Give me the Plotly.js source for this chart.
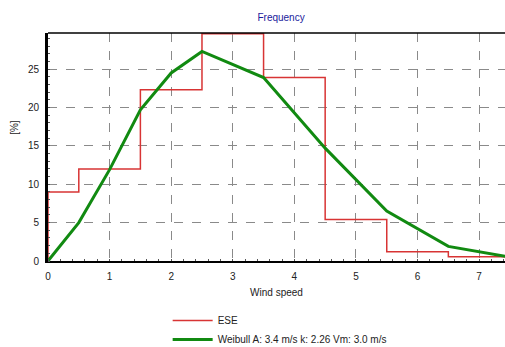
<!DOCTYPE html>
<html>
<head>
<meta charset="utf-8">
<script src="https://cdn.plot.ly/plotly-3.0.1.min.js"></script>
<style>
html,body{margin:0;padding:0;background:#fff;}
#chart{width:505px;height:347px;}
</style>
</head>
<body>
<div id="chart"></div>
<script>
// Histogram (ESE) – step values per bin, bins start at these edges
const binEdges = [0, 0, 0.5, 1.5, 2.5, 3.5, 4.5, 5.5, 6.5, 7.5];
const eseValues = [0, 9.0, 12.0, 22.3, 29.6, 23.9, 5.4, 1.2, 0.55, 0.55];

// Weibull curve
const weibullX = [0, 0.5, 1.0, 1.5, 2.0, 2.5, 3.5, 4.5, 5.5, 6.5, 7.5];
const weibullY = [0, 5.0, 11.9, 19.7, 24.5, 27.3, 23.9, 14.7, 6.5, 1.9, 0.5];

const xTicks = [0, 1, 2, 3, 4, 5, 6, 7];
const yTicks = [0, 5, 10, 15, 20, 25];

const seriesNames = ['ESE', 'Weibull A: 3.4 m/s k: 2.26 Vm: 3.0 m/s'];

const font = {family: 'Liberation Sans, Arial, sans-serif', size: 10, color: '#222'};

const traces = [
  {
    x: binEdges, y: eseValues, type: 'scatter', mode: 'lines',
    line: {shape: 'hv', color: '#d83434', width: 1.5},
    name: seriesNames[0]
  },
  {
    x: weibullX, y: weibullY, type: 'scatter', mode: 'lines',
    line: {color: '#118a11', width: 3},
    name: seriesNames[1]
  }
];

const layout = {
  width: 505, height: 347,
  margin: {l: 48, r: 0, t: 33, b: 86, autoexpand: false},
  paper_bgcolor: '#fff', plot_bgcolor: '#fff',
  font: font,
  title: {text: 'Frequency', font: {family: 'Liberation Sans, Arial, sans-serif', size: 10, color: '#1a1a9c'},
          x: 0.51, xanchor: 'center', y: 0.95, yanchor: 'middle', xref: 'paper'},
  xaxis: {
    range: [0, 7.42], tickvals: xTicks, ticktext: xTicks.map(String),
    showgrid: true, gridcolor: '#8a8a8a', griddash: 'dash', gridwidth: 1,
    showline: true, linecolor: '#000', linewidth: 2,
    ticks: 'outside', ticklen: 5, tickcolor: '#fff',
    minor: {dtick: 0.2, ticks: 'inside', ticklen: 2, tickcolor: '#555', showgrid: false},
    zeroline: false, automargin: true,
    title: {text: 'Wind speed', font: font, standoff: 8},
    tickfont: font, fixedrange: true
  },
  yaxis: {
    range: [0, 29.7], tickvals: yTicks, ticktext: yTicks.map(String),
    showgrid: true, gridcolor: '#8a8a8a', griddash: 'dash', gridwidth: 1,
    showline: true, linecolor: '#000', linewidth: 3,
    ticks: 'outside', ticklen: 4, tickcolor: '#fff',
    minor: {dtick: 1, ticks: 'inside', ticklen: 2, tickcolor: '#555', showgrid: false},
    zeroline: false, automargin: true,
    tickfont: font, fixedrange: true
  },
  annotations: [
    {text: '[%]', xref: 'paper', yref: 'paper', x: -0.074, y: 0.585,
     xanchor: 'center', yanchor: 'middle', textangle: -90, showarrow: false, font: font}
  ],
  shapes: [
    {type: 'line', xref: 'paper', yref: 'paper', x0: 0, x1: 1, y0: 1, y1: 1,
     line: {color: '#000', width: 1.5}}
  ],
  showlegend: true,
  legend: {
    xref: 'container', yref: 'container',
    x: 0.332, y: 0.118, xanchor: 'left', yanchor: 'top',
    font: font, bgcolor: 'rgba(0,0,0,0)', tracegroupgap: 0,
    itemwidth: 40
  }
};

Plotly.newPlot('chart', traces, layout, {displayModeBar: false, staticPlot: true});
</script>
</body>
</html>
